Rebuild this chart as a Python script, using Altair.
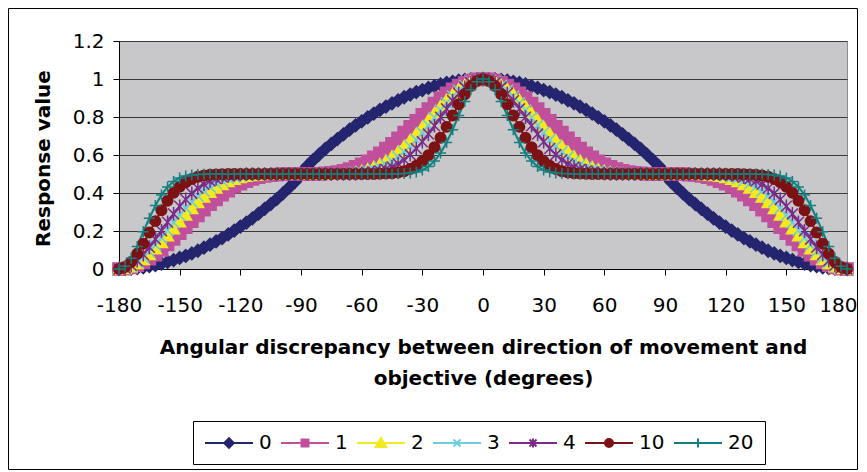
import altair as alt
import pandas as pd

# ---- data (curves are symmetric about 0 deg) ----
HALF_ANGLES = list(range(0, 181, 3))  # 0, 3, ..., 180
SERIES = ["0", "1", "2", "3", "4", "10", "20"]
COLORS = ["#25256F", "#C1509C", "#F2EA1E", "#6CCDE0", "#7B2A87", "#7D1214", "#118080"]

S0 = [1.000, 0.999, 0.998, 0.995, 0.991, 0.985, 0.979, 0.972, 0.963, 0.953,
      0.942, 0.931, 0.918, 0.904, 0.888, 0.872, 0.855, 0.837, 0.818, 0.798,
      0.777, 0.756, 0.733, 0.709, 0.684, 0.658, 0.632, 0.603, 0.573, 0.541,
      0.500, 0.459, 0.427, 0.397, 0.368, 0.342, 0.316, 0.291, 0.267, 0.244,
      0.223, 0.202, 0.182, 0.163, 0.145, 0.128, 0.112, 0.096, 0.082, 0.069,
      0.058, 0.047, 0.037, 0.028, 0.021, 0.015, 0.009, 0.005, 0.002, 0.001,
      0.000]
S1 = [1.000, 0.998, 0.991, 0.980, 0.965, 0.946, 0.924, 0.899, 0.871, 0.842,
      0.811, 0.780, 0.748, 0.718, 0.688, 0.659, 0.633, 0.608, 0.587, 0.567,
      0.551, 0.537, 0.526, 0.517, 0.510, 0.506, 0.503, 0.501, 0.500, 0.500,
      0.500, 0.500, 0.500, 0.499, 0.497, 0.494, 0.490, 0.483, 0.474, 0.463,
      0.449, 0.433, 0.413, 0.392, 0.367, 0.341, 0.312, 0.282, 0.252, 0.220,
      0.189, 0.158, 0.129, 0.101, 0.076, 0.054, 0.035, 0.020, 0.009, 0.002,
      0.000]
S2 = [1.000, 0.997, 0.987, 0.971, 0.950, 0.923, 0.893, 0.860, 0.824, 0.787,
      0.751, 0.715, 0.681, 0.649, 0.620, 0.595, 0.573, 0.554, 0.539, 0.527,
      0.518, 0.511, 0.507, 0.504, 0.502, 0.501, 0.500, 0.500, 0.500, 0.500,
      0.500, 0.500, 0.500, 0.500, 0.500, 0.499, 0.498, 0.496, 0.493, 0.489,
      0.482, 0.473, 0.461, 0.446, 0.427, 0.405, 0.380, 0.351, 0.319, 0.285,
      0.249, 0.213, 0.176, 0.140, 0.107, 0.077, 0.050, 0.029, 0.013, 0.003,
      0.000]
S3 = [1.000, 0.996, 0.984, 0.965, 0.940, 0.909, 0.874, 0.836, 0.796, 0.756,
      0.717, 0.680, 0.646, 0.616, 0.589, 0.567, 0.549, 0.534, 0.523, 0.515,
      0.509, 0.505, 0.503, 0.501, 0.501, 0.500, 0.500, 0.500, 0.500, 0.500,
      0.500, 0.500, 0.500, 0.500, 0.500, 0.500, 0.499, 0.499, 0.497, 0.495,
      0.491, 0.485, 0.477, 0.466, 0.451, 0.433, 0.411, 0.384, 0.354, 0.320,
      0.283, 0.244, 0.204, 0.164, 0.126, 0.091, 0.060, 0.035, 0.016, 0.004,
      0.000]
S4 = [1.000, 0.995, 0.980, 0.956, 0.924, 0.886, 0.843, 0.799, 0.754, 0.710,
      0.670, 0.634, 0.602, 0.575, 0.554, 0.537, 0.525, 0.516, 0.509, 0.505,
      0.503, 0.501, 0.501, 0.500, 0.500, 0.500, 0.500, 0.500, 0.500, 0.500,
      0.500, 0.500, 0.500, 0.500, 0.500, 0.500, 0.500, 0.500, 0.499, 0.499,
      0.497, 0.495, 0.491, 0.484, 0.475, 0.463, 0.446, 0.425, 0.398, 0.366,
      0.330, 0.290, 0.246, 0.201, 0.157, 0.114, 0.076, 0.044, 0.020, 0.005,
      0.000]
S10 = [1.000, 0.990, 0.963, 0.920, 0.867, 0.808, 0.748, 0.691, 0.641, 0.599,
       0.567, 0.543, 0.526, 0.515, 0.508, 0.504, 0.502, 0.501, 0.500, 0.500,
       0.500, 0.500, 0.500, 0.500, 0.500, 0.500, 0.500, 0.500, 0.500, 0.500,
       0.500, 0.500, 0.500, 0.500, 0.500, 0.500, 0.500, 0.500, 0.500, 0.500,
       0.500, 0.500, 0.500, 0.499, 0.498, 0.496, 0.492, 0.485, 0.474, 0.457,
       0.433, 0.401, 0.359, 0.309, 0.252, 0.192, 0.133, 0.080, 0.037, 0.010,
       0.000]
S20 = [1.000, 0.985, 0.943, 0.881, 0.808, 0.733, 0.666, 0.610, 0.568, 0.539,
       0.521, 0.510, 0.505, 0.502, 0.501, 0.500, 0.500, 0.500, 0.500, 0.500,
       0.500, 0.500, 0.500, 0.500, 0.500, 0.500, 0.500, 0.500, 0.500, 0.500,
       0.500, 0.500, 0.500, 0.500, 0.500, 0.500, 0.500, 0.500, 0.500, 0.500,
       0.500, 0.500, 0.500, 0.500, 0.500, 0.500, 0.499, 0.498, 0.495, 0.490,
       0.479, 0.461, 0.432, 0.390, 0.334, 0.267, 0.196, 0.119, 0.057, 0.015,
       0.000]
VALUES = {"0": S0, "1": S1, "2": S2, "3": S3, "4": S4, "10": S10, "20": S20}

X_TICKS = [-180, -150, -120, -90, -60, -30, 0, 30, 60, 90, 120, 150, 180]
Y_TICKS = [0, 0.2, 0.4, 0.6, 0.8, 1.0, 1.2]

rows = []
for name in SERIES:
    vals = VALUES[name]
    for a, v in zip(HALF_ANGLES[::-1], vals[::-1]):
        if a != 0:
            rows.append({"angle": -a, "value": v, "series": name})
    for a, v in zip(HALF_ANGLES, vals):
        rows.append({"angle": a, "value": v, "series": name})
df = pd.DataFrame(rows)

# ---- marker shapes ----
X_PATH = "M-1,-1L1,1M-1,1L1,-1"
AST_PATH = "M-1,-1L1,1M-1,1L1,-1M0,-1.25L0,1.25"
PLUS_PATH = "M-1.1,0L1.1,0M0,-1.1L0,1.1"
MARK_SHAPES = ["diamond", "square", "triangle-up", X_PATH, AST_PATH, "circle", PLUS_PATH]
MARK_SIZES = [160, 100, 120, 100, 110, 90, 120]

LINE = "M-1,0L3.8,0"
LEG_SHAPES = [
    LINE + "M1.4,-0.48L1.88,0L1.4,0.48L0.92,0Z",
    LINE + "M1.05,-0.35L1.75,-0.35L1.75,0.35L1.05,0.35Z",
    LINE + "M1.4,-0.5L1.92,0.4L0.88,0.4Z",
    LINE + "M1.05,-0.35L1.75,0.35M1.05,0.35L1.75,-0.35",
    LINE + "M1.05,-0.35L1.75,0.35M1.05,0.35L1.75,-0.35M1.4,-0.45L1.4,0.45",
    LINE + "M1.0,0A0.4,0.4,0,1,0,1.8,0A0.4,0.4,0,1,0,1.0,0Z",
    LINE + "M1.4,-0.45L1.4,0.45",
]

FONT = "DejaVu Sans"

x_enc = alt.X(
    "angle:Q",
    scale=alt.Scale(domain=[-180, 180], nice=False),
    axis=alt.Axis(
        values=X_TICKS, labelExpr="'' + datum.value", grid=False,
        labelOverlap=False, labelBound=False, labelFlush=False,
        labelAlign={"condition": {"test": "datum.value == 180", "value": "right"}, "value": "center"},
        labelOffset={"condition": {"test": "datum.value == 180", "value": 10}, "value": 0},
        tickSize=6, labelPadding=20,
        title=["Angular discrepancy between direction of movement and", "objective (degrees)"],
        titleY=84, titleBaseline="alphabetic", titleLineHeight=31,
    ),
)
y_enc = alt.Y(
    "value:Q",
    scale=alt.Scale(domain=[0, 1.2], nice=False),
    axis=alt.Axis(
        values=Y_TICKS, format="~g", grid=True, gridColor="#3A3A3A", gridWidth=1,
        labelOverlap=False, labelFlush=False, tickSize=6, labelPadding=9,
        title="Response value", titleX=-70, titleY=117, titleAngle=270,
        titleBaseline="alphabetic", titleAlign="center",
    ),
)

color_scale = alt.Scale(domain=SERIES, range=COLORS)

lines = alt.Chart(df).mark_line(strokeWidth=2).encode(
    x=x_enc, y=y_enc,
    color=alt.Color("series:N", scale=color_scale, legend=None),
    detail="series:N",
)

points = alt.Chart(df).mark_point(filled=True, strokeWidth=1.5, opacity=1).encode(
    x=x_enc, y=y_enc,
    color=alt.Color("series:N", scale=color_scale, legend=None),
    stroke=alt.Stroke("series:N", scale=color_scale, legend=None),
    shape=alt.Shape("series:N", scale=alt.Scale(domain=SERIES, range=MARK_SHAPES), legend=None),
    size=alt.Size("series:N", scale=alt.Scale(domain=SERIES, range=MARK_SIZES), legend=None),
)

leg = dict(
    orient="none", legendX=74, legendY=380, direction="horizontal", columns=7,
    title=None, symbolSize=400, symbolStrokeWidth=2, labelFontSize=20, labelFont=FONT,
    labelColor="black", labelOffset=33, columnPadding=5, padding=11,
    strokeColor="black", fillColor="white",
)

legend_layer = alt.Chart(df).transform_filter("false").mark_point(
    filled=True, strokeWidth=2, opacity=1
).encode(
    x=x_enc, y=y_enc,
    color=alt.Color("series:N", scale=color_scale, legend=alt.Legend(**leg)),
    stroke=alt.Stroke("series:N", scale=color_scale, legend=alt.Legend(**leg)),
    shape=alt.Shape("series:N", scale=alt.Scale(domain=SERIES, range=LEG_SHAPES),
                    legend=alt.Legend(**leg)),
)

frame = alt.Chart(pd.DataFrame({"k": [0]})).mark_rect(
    filled=False, stroke="black", strokeWidth=1
).encode(
    x=alt.value(-110.5), x2=alt.value(738.5), y=alt.value(-32.5), y2=alt.value(428.5)
)

chart = alt.layer(frame, lines, points, legend_layer).resolve_scale(
    color="independent", stroke="independent", shape="independent", size="independent"
).properties(
    width=728, height=228,
    autosize=alt.AutoSizeParams(type="none"),
    padding={"left": 111, "top": 33, "right": 12, "bottom": 203},
).configure_view(
    fill="#C8C8CA", stroke="#8C8C8C", strokeWidth=1
).configure_axis(
    domainColor="black", tickColor="black", labelColor="black",
    labelFont=FONT, labelFontSize=20, titleFont=FONT, titleFontSize=20,
    titleFontWeight="bold", titleColor="black",
)

chart.save("out.html", embed_options={"renderer": "svg", "actions": False})
